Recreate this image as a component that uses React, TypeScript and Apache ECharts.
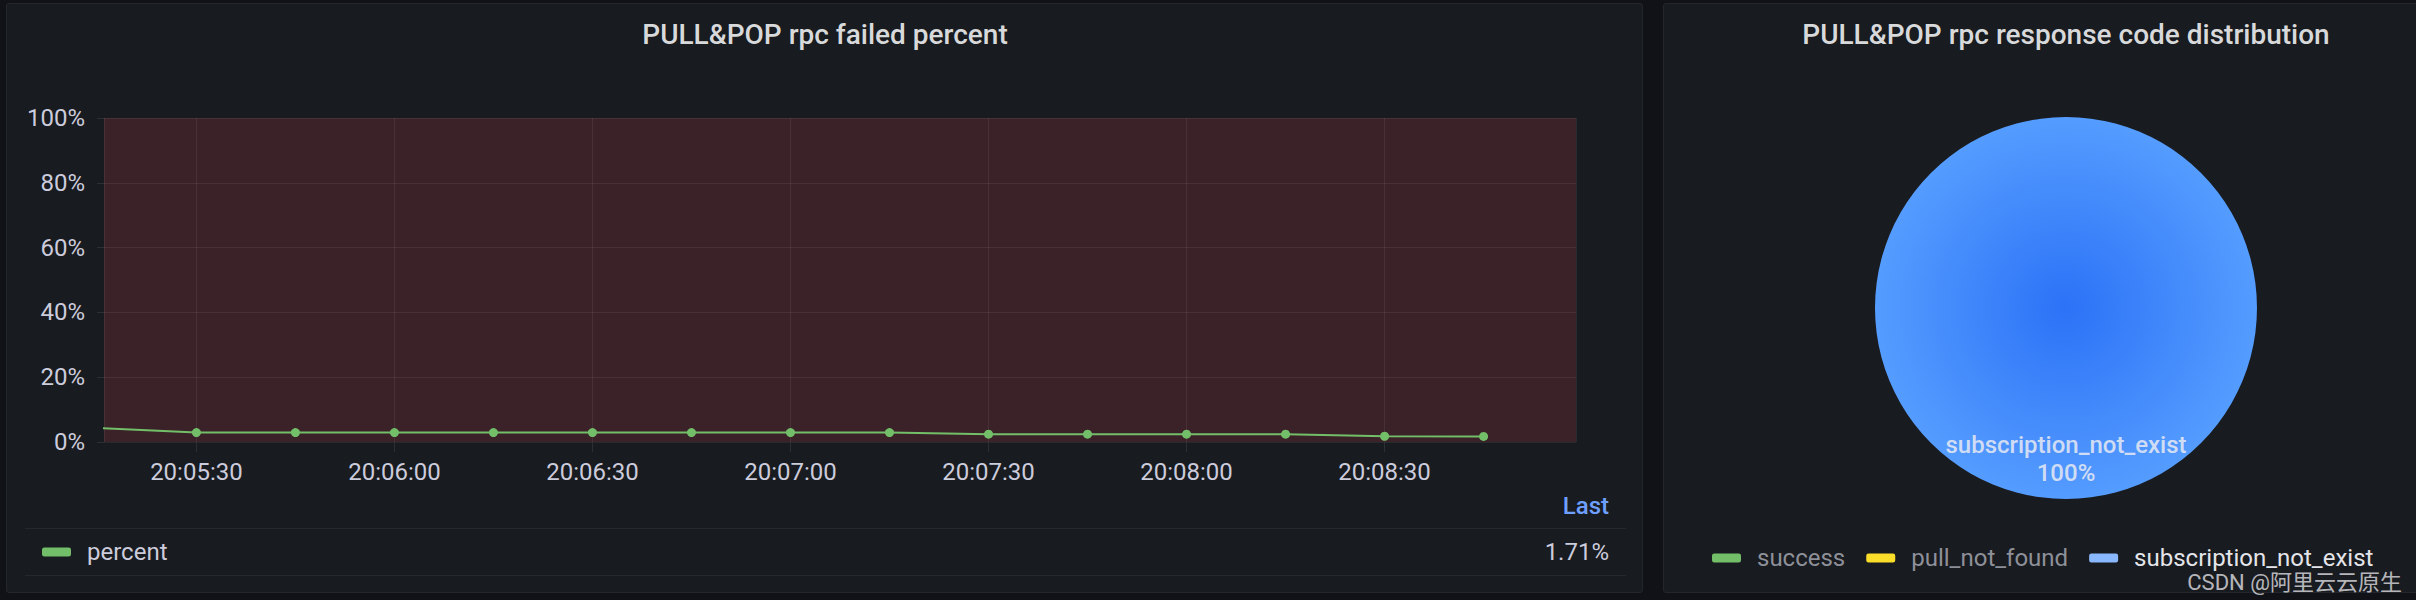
import React, { useEffect, useRef } from "react";
import * as echarts from "echarts";

// ---- data ----
const sampleTimes = [
  "20:05:15", "20:05:30", "20:05:45", "20:06:00", "20:06:15", "20:06:30", "20:06:45", "20:07:00",
  "20:07:15", "20:07:30", "20:07:45", "20:08:00", "20:08:15", "20:08:30", "20:08:45",
];
const failedPercent = [4.3, 2.9, 2.9, 2.9, 2.9, 2.9, 2.9, 2.9, 2.9, 2.4, 2.4, 2.4, 2.4, 1.78, 1.71];
const windowStart = "20:05:16";
const windowEnd = "20:08:59";
const yMin = 0;
const yMax = 100;
const yStep = 20;
const seriesName = "percent";

const codeNames = ["success", "pull_not_found", "subscription_not_exist"];
const codeValues = [0, 0, 100];
const codeColors = ["#73bf69", "#fade2a", "#8ab8ff"];
const codeTextColors = ["#8e9099", "#8e9099", "#e4e5ea"];

const panelTitles = ["PULL&POP rpc failed percent", "PULL&POP rpc response code distribution"];
const watermark = "CSDN @阿里云云原生";

const FONT = "Roboto, 'Noto Sans', sans-serif";

function toMs(t: string): number {
  const [h, m, s] = t.split(":").map(Number);
  return new Date(2022, 5, 1, h, m, s).getTime();
}

export default function App() {
  const ref = useRef<HTMLDivElement>(null);

  useEffect(() => {
    if (!ref.current) return;
    const chart = echarts.init(ref.current, undefined, { renderer: "svg" });
    const lastValue = failedPercent[failedPercent.length - 1];

    const option: any = {
      animation: false,
      backgroundColor: "transparent",
      textStyle: { fontFamily: FONT },
      grid: {
        left: 104,
        top: 118,
        width: 1472,
        height: 324,
        show: true,
        backgroundColor: "#3a2228",
        borderWidth: 0,
        containLabel: false,
      },
      xAxis: {
        type: "time",
        min: toMs(windowStart),
        max: toMs(windowEnd),
        minInterval: 31000,
        maxInterval: 31000,
        splitNumber: 7,
        axisLine: { show: false },
        axisTick: { show: true, length: 10, lineStyle: { color: "#2c2f35" } },
        splitLine: { show: true, lineStyle: { color: "rgba(255,255,255,0.07)", width: 1 } },
        axisLabel: {
          formatter: "{HH}:{mm}:{ss}",
          color: "#ccccdc",
          fontSize: 24,
          fontFamily: FONT,
          margin: 18,
          showMinLabel: false,
          showMaxLabel: false,
          hideOverlap: false,
        },
      },
      yAxis: {
        type: "value",
        min: yMin,
        max: yMax,
        interval: yStep,
        axisLine: { show: false },
        axisTick: { show: true, length: 7, lineStyle: { color: "#2c2f35" } },
        splitLine: { show: true, lineStyle: { color: "rgba(255,255,255,0.07)", width: 1 } },
        axisLabel: {
          formatter: "{value}%",
          color: "#ccccdc",
          fontSize: 24,
          fontFamily: FONT,
          margin: 19,
        },
      },
      legend: [
        {
          data: [{ name: seriesName, itemStyle: { color: "#73bf69" } }],
          left: 42,
          top: 538,
          padding: 0,
          icon: "roundRect",
          itemWidth: 29,
          itemHeight: 9,
          selectedMode: false,
          textStyle: { color: "#ccccdc", fontSize: 24, fontFamily: FONT, lineHeight: 28, padding: [0, 0, 0, 11] },
        },
        {
          data: codeNames.map((n, i) => ({
            name: n,
            itemStyle: { color: codeColors[i] },
            textStyle: { color: codeTextColors[i] },
          })),
          left: 1712,
          top: 544,
          padding: 0,
          icon: "roundRect",
          itemWidth: 29,
          itemHeight: 9,
          itemGap: 21,
          selectedMode: false,
          textStyle: { fontSize: 24, fontFamily: FONT, lineHeight: 28, padding: [0, 0, 0, 11] },
        },
      ],
      series: [
        {
          name: seriesName,
          type: "line",
          data: sampleTimes.map((t, i) => [toMs(t), failedPercent[i]]),
          color: "#73bf69",
          lineStyle: { width: 2, color: "#73bf69" },
          symbol: "circle",
          symbolSize: 9,
          showSymbol: true,
          showAllSymbol: true,
          itemStyle: { color: "#73bf69" },
          clip: true,
          z: 5,
        },
        {
          name: "codes",
          type: "pie",
          center: [2066, 308],
          radius: [0, 191],
          startAngle: 90,
          clockwise: true,
          avoidLabelOverlap: false,
          labelLine: { show: false },
          labelLayout: { dy: 52 },
          data: codeNames.map((n, i) => ({
            name: n,
            value: codeValues[i],
            itemStyle:
              i === 2
                ? {
                    color: new echarts.graphic.RadialGradient(0.5, 0.5, 0.5, [
                      { offset: 0, color: "#2b72f7" },
                      { offset: 1, color: "#559cff" },
                    ]),
                  }
                : { color: codeColors[i] },
            label: { show: codeValues[i] > 0 },
          })),
          itemStyle: { borderWidth: 0 },
          label: {
            position: "inner",
            formatter: "{b}\n{d}%",
            color: "rgba(232,234,242,0.85)",
            fontSize: 24,
            fontWeight: 500,
            lineHeight: 28,
            fontFamily: FONT,
            align: "center",
          },
          emphasis: { disabled: true },
        },
      ],
      graphic: [
        {
          type: "text",
          x: 825,
          y: 34,
          style: {
            text: panelTitles[0],
            fill: "#d8d9da",
            fontSize: 28,
            fontWeight: 500,
            fontFamily: FONT,
            align: "center",
            verticalAlign: "middle",
          },
        },
        {
          type: "text",
          x: 2066,
          y: 34,
          style: {
            text: panelTitles[1],
            fill: "#d8d9da",
            fontSize: 28,
            fontWeight: 500,
            fontFamily: FONT,
            align: "center",
            verticalAlign: "middle",
          },
        },
        {
          type: "text",
          x: 1609,
          y: 506,
          style: {
            text: "Last",
            fill: "#6e9fff",
            fontSize: 24,
            fontWeight: 500,
            fontFamily: FONT,
            align: "right",
            verticalAlign: "middle",
          },
        },
        {
          type: "text",
          x: 1609,
          y: 552,
          style: {
            text: lastValue.toFixed(2) + "%",
            fill: "#ccccdc",
            fontSize: 24,
            fontFamily: FONT,
            align: "right",
            verticalAlign: "middle",
          },
        },
        {
          type: "line",
          shape: { x1: 25, y1: 528.5, x2: 1626, y2: 528.5 },
          style: { stroke: "#25282e", lineWidth: 1 },
        },
        {
          type: "line",
          shape: { x1: 25, y1: 575.5, x2: 1626, y2: 575.5 },
          style: { stroke: "#25282e", lineWidth: 1 },
        },
        {
          type: "text",
          x: 2402,
          y: 582,
          style: {
            text: watermark,
            fill: "rgba(225,225,230,0.8)",
            fontSize: 22,
            fontFamily: "Roboto, 'Noto Sans CJK SC', sans-serif",
            align: "right",
            verticalAlign: "middle",
          },
        },
      ],
    };

    chart.setOption(option);
    return () => chart.dispose();
  }, []);

  const panelStyle = (left: number, width: number): React.CSSProperties => ({
    position: "absolute",
    left,
    top: 3,
    width,
    height: 590,
    background: "#181b1f",
    border: "1px solid #23262c",
    borderRadius: 3,
    boxSizing: "border-box",
  });

  return (
    <div
      style={{
        position: "fixed",
        left: 0,
        top: 0,
        width: 2416,
        height: 600,
        background: "#111217",
        overflow: "hidden",
      }}
    >
      <div style={panelStyle(6, 1637)} />
      <div style={panelStyle(1663, 810)} />
      <div ref={ref} style={{ position: "absolute", left: 0, top: 0, width: 2416, height: 600 }} />
    </div>
  );
}
